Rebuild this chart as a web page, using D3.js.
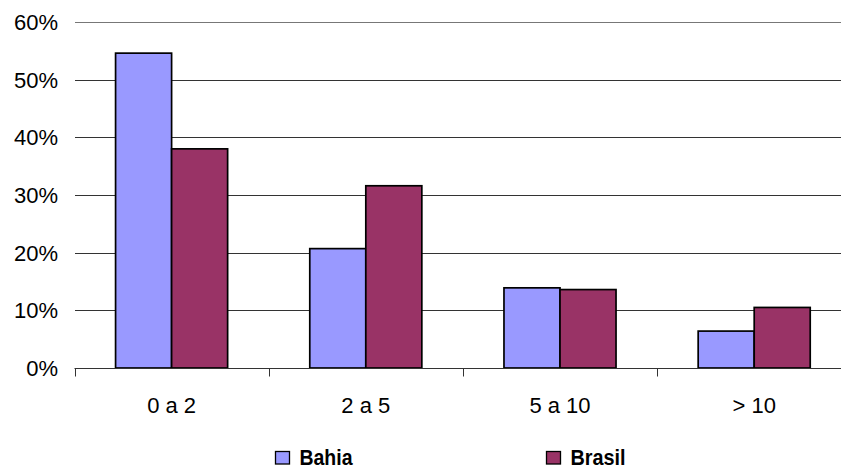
<!DOCTYPE html>
<html><head><meta charset="utf-8">
<script src="https://cdn.jsdelivr.net/npm/d3@7/dist/d3.min.js"></script>
<style>body{margin:0;background:#fff}svg{display:block}</style>
</head><body>
<script>
const categories = ["0 a 2", "2 a 5", "5 a 10", "> 10"];
const seriesNames = ["Bahia", "Brasil"];
const bahia = [0.546, 0.207, 0.139, 0.064];
const brasil = [0.380, 0.316, 0.136, 0.105];
const seriesColors = ["#9999FF", "#993366"];
const yTicks = [0, 0.1, 0.2, 0.3, 0.4, 0.5, 0.6];

const W = 841, H = 469;
const svg = d3.select("body").append("svg").attr("width", W).attr("height", H);
const font = "Liberation Sans, Arial, sans-serif";

const y = d3.scaleLinear().domain([0, 0.6]).range([368, 22]);
const x = d3.scaleBand().domain(categories).range([74.5, 851.3]).paddingInner(0.423).paddingOuter(0.2115);
const xs = d3.scaleBand().domain(seriesNames).range([0, x.bandwidth()]);

// gridlines
svg.append("g").selectAll("line").data(yTicks.slice(1)).join("line")
  .attr("x1", 75).attr("x2", W).attr("y1", d => Math.round(y(d)) + 0.5).attr("y2", d => Math.round(y(d)) + 0.5)
  .attr("stroke", (d) => d === 0.6 ? "#777" : "#333").attr("stroke-width", 1);

// y labels
svg.append("g").selectAll("text").data(yTicks).join("text")
  .attr("x", 58).attr("y", d => y(d)).attr("dy", "0.36em")
  .attr("text-anchor", "end").attr("font-family", font).attr("font-size", 22)
  .attr("fill", "#000").text(d => d3.format(".0%")(d));

// bars
const data = [];
categories.forEach((c, i) => {
  data.push({cat: c, s: seriesNames[0], v: bahia[i], col: seriesColors[0]});
  data.push({cat: c, s: seriesNames[1], v: brasil[i], col: seriesColors[1]});
});
svg.append("g").selectAll("rect").data(data).join("rect")
  .attr("x", d => x(d.cat) + xs(d.s)).attr("width", xs.bandwidth())
  .attr("y", d => y(d.v)).attr("height", d => y(0) - y(d.v))
  .attr("fill", d => d.col).attr("stroke", "#000").attr("stroke-width", 1.7);

// x axis
const y0 = Math.round(y(0)) + 0.5;
svg.append("line").attr("x1", 74.5).attr("x2", W).attr("y1", y0).attr("y2", y0)
  .attr("stroke", "#333").attr("stroke-width", 1);
const tickXs = [74.5].concat(categories.slice(1).map(c => x(c) - x.step() * x.paddingInner() / 2));
svg.append("g").selectAll("line").data(tickXs).join("line")
  .attr("x1", d => Math.round(d) + 0.5).attr("x2", d => Math.round(d) + 0.5)
  .attr("y1", y0).attr("y2", y0 + 8).attr("stroke", "#333");
svg.append("g").selectAll("text").data(categories).join("text")
  .attr("x", d => x(d) + x.bandwidth() / 2).attr("y", 413)
  .attr("text-anchor", "middle").attr("font-family", font).attr("font-size", 22)
  .text(d => d);

// legend
const legendX = [275.5, 546.5];
const legendW = [53, 55];
const lg = svg.append("g").selectAll("g").data(seriesNames).join("g");
lg.append("rect").attr("x", (d, i) => legendX[i]).attr("y", 451.5).attr("width", 14).attr("height", 12.5)
  .attr("fill", (d, i) => seriesColors[i]).attr("stroke", "#000").attr("stroke-width", 1.3);
lg.append("text").attr("x", (d, i) => legendX[i] + 24).attr("y", 464.5)
  .attr("font-family", font).attr("font-size", 22).attr("font-weight", "bold")
  .attr("textLength", (d, i) => legendW[i]).attr("lengthAdjust", "spacingAndGlyphs")
  .text(d => d);
</script>
</body></html>
